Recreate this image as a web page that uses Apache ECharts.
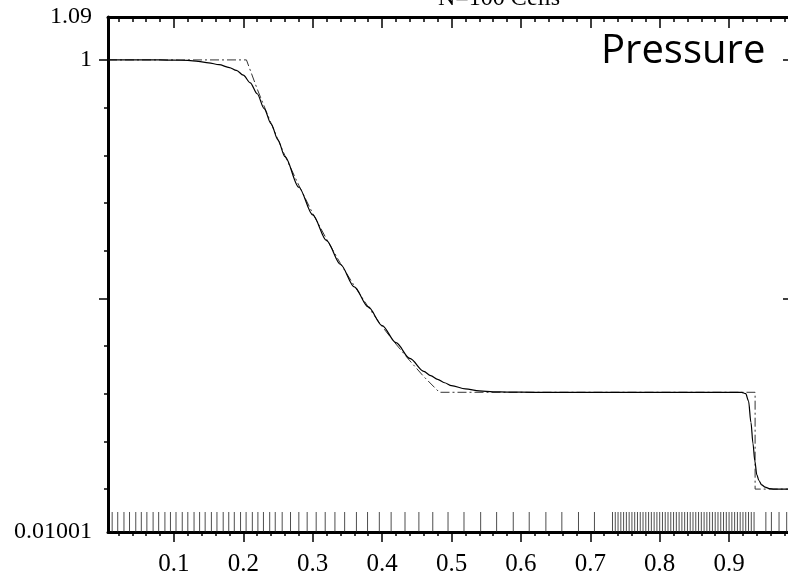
<!DOCTYPE html>
<html>
<head>
<meta charset="utf-8">
<script src="https://cdn.jsdelivr.net/npm/echarts@6/dist/echarts.min.js"></script>
<style>
  html, body { margin: 0; padding: 0; background: #fff; }
  #main { width: 788px; height: 579px; }
</style>
</head>
<body>
<div id="main"></div>
<script>
// exact solution (dash-dot)
var exactX = [0.005, 0.2045, 0.22, 0.24, 0.26, 0.28, 0.30, 0.32, 0.34, 0.36, 0.38, 0.40, 0.42, 0.44, 0.46, 0.4825, 0.9375, 0.9375, 0.995];
var exactP = [1, 1, 0.939, 0.867, 0.799, 0.737, 0.678, 0.624, 0.573, 0.526, 0.482, 0.441, 0.404, 0.369, 0.336, 0.303, 0.303, 0.1, 0.1];

// numerical solution (solid)
var numX = [0.005, 0.08, 0.10, 0.12, 0.135, 0.15, 0.165, 0.18, 0.19, 0.20, 0.21, 0.22, 0.23, 0.24, 0.25, 0.26, 0.28, 0.30, 0.32, 0.34,
            0.36, 0.38, 0.40, 0.42, 0.44, 0.46, 0.47, 0.48, 0.49, 0.50, 0.52, 0.54, 0.56, 0.58, 0.62, 0.70, 0.80, 0.90, 0.918, 0.924,
            0.928, 0.9315, 0.9345, 0.937, 0.940, 0.943, 0.947, 0.952, 0.958, 0.965, 0.98, 0.995];
var numP = [1, 1, 0.9995, 0.999, 0.997, 0.994, 0.990, 0.984, 0.978, 0.968, 0.952, 0.929, 0.898, 0.866, 0.832, 0.797, 0.733, 0.675, 0.621, 0.571,
            0.524, 0.482, 0.443, 0.407, 0.374, 0.347, 0.338, 0.330, 0.323, 0.317, 0.310, 0.306, 0.304, 0.3035, 0.303, 0.303, 0.303, 0.303, 0.303, 0.300,
            0.285, 0.24, 0.195, 0.16, 0.13, 0.118, 0.109, 0.104, 0.101, 0.1, 0.1, 0.1];

// cell positions (marks along the bottom axis)
var cellX = [0.011, 0.019, 0.028, 0.036, 0.045, 0.053, 0.061, 0.070, 0.078, 0.087, 0.095, 0.103, 0.112, 0.120, 0.129,
             0.137, 0.145, 0.154, 0.162, 0.171, 0.179, 0.187, 0.196, 0.204, 0.213, 0.221, 0.229, 0.238, 0.246,
             0.256, 0.268, 0.280, 0.292, 0.305, 0.318, 0.332, 0.346, 0.363, 0.379, 0.396, 0.413, 0.433, 0.453, 0.473, 0.495,
             0.518, 0.542, 0.565, 0.589, 0.612, 0.636, 0.659, 0.683, 0.706,
             0.732, 0.736, 0.740, 0.744, 0.748, 0.752, 0.756, 0.760, 0.764, 0.768, 0.772, 0.776, 0.780,
             0.784, 0.788, 0.792, 0.796, 0.800, 0.804, 0.808, 0.812, 0.816, 0.820, 0.824, 0.828, 0.832,
             0.836, 0.840, 0.844, 0.848, 0.852, 0.856, 0.860, 0.864, 0.868, 0.872, 0.876, 0.880, 0.884,
             0.888, 0.892, 0.896, 0.900, 0.904, 0.908, 0.912, 0.916, 0.920, 0.924, 0.928, 0.932, 0.936,
             0.953, 0.961, 0.972, 0.983, 0.9935];

// ticks and labels
var xMajor = [0.1, 0.2, 0.3, 0.4, 0.5, 0.6, 0.7, 0.8, 0.9];
var xMinor = [0.02, 0.04, 0.06, 0.08, 0.12, 0.14, 0.16, 0.18, 0.22, 0.24, 0.26, 0.28, 0.32, 0.34, 0.36, 0.38,
              0.42, 0.44, 0.46, 0.48, 0.52, 0.54, 0.56, 0.58, 0.62, 0.64, 0.66, 0.68, 0.72, 0.74, 0.76, 0.78,
              0.82, 0.84, 0.86, 0.88, 0.92, 0.94, 0.96, 0.98];
var yMajor = [0.5, 1];
var yMinor = [0.1, 0.2, 0.3, 0.4, 0.6, 0.7, 0.8, 0.9];
var yLabels = [0.01001, 1, 1.09];

var X_MIN = 0.005, X_MAX = 0.995, Y_MIN = 0.01001, Y_MAX = 1.09;

function pairs(xs, ys) {
    return xs.map(function(x, i) { return [x, ys[i]]; });
}

var serif = 'Liberation Serif';
var ink = '#000';

function xAx(pos, ticks, len, inside, line, labels) {
    return {
        type: 'value', position: pos, min: X_MIN, max: X_MAX,
        axisLine: { show: line, lineStyle: { color: ink, width: 3 } },
        axisTick: { show: true, customValues: ticks, length: len, inside: inside, lineStyle: { color: ink, width: 1.5 } },
        axisLabel: labels ? { customValues: labels, color: ink, fontFamily: serif, fontSize: 25, margin: 20 } : { show: false },
        splitLine: { show: false }
    };
}

function yAx(pos, ticks, len, inside, line, labels) {
    return {
        type: 'value', position: pos, min: Y_MIN, max: Y_MAX,
        axisLine: { show: line, lineStyle: { color: ink, width: 3 } },
        axisTick: { show: true, customValues: ticks, length: len, inside: inside, lineStyle: { color: ink, width: 1.5 } },
        axisLabel: labels ? {
            customValues: labels, color: ink, fontFamily: serif, fontSize: 24, margin: 16,
            formatter: function(v) { return String(v); }
        } : { show: false },
        splitLine: { show: false }
    };
}

var chart = echarts.init(document.getElementById('main'));
chart.setOption({
    animation: false,
    backgroundColor: '#fff',
    title: [{
        text: 'N=100 Cells', left: 433, top: -18,
        textStyle: { fontFamily: serif, fontSize: 24, fontWeight: 'normal', color: ink }
    }, {
        text: 'Pressure', left: 596, top: 27,
        textStyle: { fontFamily: 'Open Sans', fontSize: 40, fontWeight: 'normal', color: ink }
    }],
    grid: { left: 108, right: -7, top: 17, bottom: 47, outerBoundsMode: 'none' },
    xAxis: [
        xAx('bottom', xMajor, 10, false, true, xMajor),
        xAx('bottom', xMinor, 4, false, false, null),
        xAx('top', xMajor, 11, true, true, null),
        xAx('top', xMinor, 5, true, false, null)
    ],
    yAxis: [
        yAx('left', yMajor, 9, false, true, yLabels),
        yAx('left', yMinor, 4, false, false, null),
        yAx('right', yMajor, 12, true, true, null)
    ],
    series: [{
        name: 'cells', type: 'scatter', xAxisIndex: 0, yAxisIndex: 0,
        symbol: 'rect', symbolSize: [1, 20], symbolOffset: [0, -10],
        itemStyle: { color: '#222' },
        data: cellX.map(function(x) { return [x, Y_MIN]; }),
        z: 1
    }, {
        name: 'exact', type: 'line', xAxisIndex: 0, yAxisIndex: 0,
        showSymbol: false, symbol: 'none',
        lineStyle: { color: '#333', width: 1, type: [9, 3, 2, 3] },
        data: pairs(exactX, exactP)
    }, {
        name: 'numerical', type: 'line', xAxisIndex: 0, yAxisIndex: 0,
        showSymbol: false, symbol: 'none',
        smooth: 0.3, smoothMonotone: 'x',
        lineStyle: { color: ink, width: 1.2 },
        data: pairs(numX, numP)
    }]
});
</script>
</body>
</html>
